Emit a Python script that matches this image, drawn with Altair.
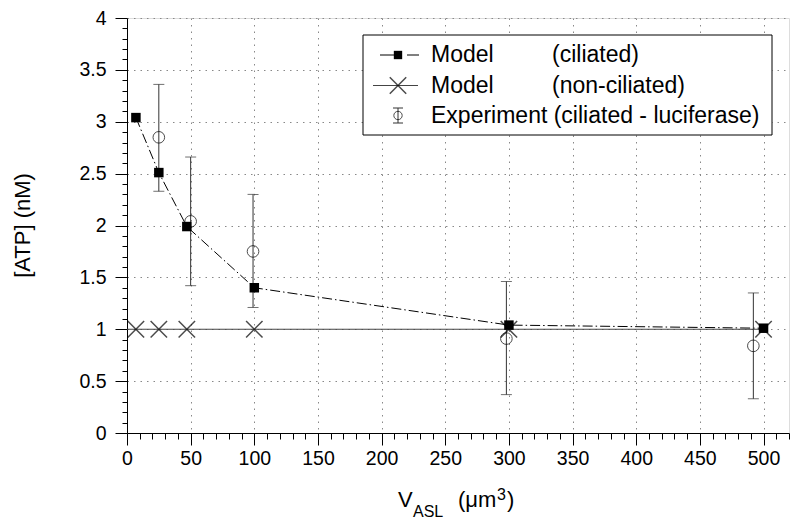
import altair as alt
import pandas as pd

# ---------------- data ----------------
vasl_model = [7, 25, 47, 100, 300, 500]
atp_model_ciliated = [3.04, 2.51, 1.99, 1.40, 1.04, 1.01]
atp_model_nonciliated = [1.00, 1.00, 1.00, 1.00, 1.00, 1.00]
nonciliated_line_x = [0, 7, 25, 47, 100, 300, 500]
nonciliated_line_y = [1.00, 1.00, 1.00, 1.00, 1.00, 1.00, 1.00]

exp_x = [25, 50, 99, 298, 492]
exp_y = [2.85, 2.04, 1.75, 0.91, 0.84]
exp_lo = [2.33, 1.42, 1.21, 0.37, 0.33]
exp_hi = [3.36, 2.66, 2.30, 1.46, 1.35]

x_ticks = list(range(0, 530, 10))
y_ticks = [round(i / 10, 1) for i in range(0, 41)]

legend_labels = ["Model", "Model", "Experiment (ciliated - luciferase)"]
legend_labels2 = ["(ciliated)", "(non-ciliated)", ""]

FONT = "Liberation Sans"

ciliated = pd.DataFrame({"v": vasl_model, "atp": atp_model_ciliated})
nonciliated = pd.DataFrame({"v": vasl_model, "atp": atp_model_nonciliated})
nonline = pd.DataFrame({"v": nonciliated_line_x, "atp": nonciliated_line_y})
exp = pd.DataFrame({"v": exp_x, "atp": exp_y, "lo": exp_lo, "hi": exp_hi})

xscale = alt.Scale(domain=[0, 520], nice=False, zero=False)
yscale = alt.Scale(domain=[0, 4], nice=False, zero=False)

xmajor = "datum.value % 50 === 0"
ymajor = "abs(datum.value * 2 - round(datum.value * 2)) < 0.001"

xaxis = alt.Axis(
    values=x_ticks,
    labelExpr=f"{xmajor} ? datum.value + '' : ''",
    tickSize={"condition": {"test": xmajor, "value": 12}, "value": 6},
    gridOpacity={"condition": {"test": xmajor, "value": 1}, "value": 0},
    grid=True, gridDash=[1.5, 5], gridColor="#888", gridWidth=1,
    domainColor="black", tickColor="black", tickWidth=1,
    labelFont=FONT, labelFontSize=19.5, labelColor="black", labelPadding=4,
    labelOverlap=False, labelFlush=False, title=None,
)
yaxis = alt.Axis(
    values=y_ticks,
    labelExpr=f"{ymajor} ? datum.value + '' : ''",
    tickSize={"condition": {"test": ymajor, "value": 12}, "value": 5},
    gridOpacity={"condition": {"test": ymajor, "value": 1}, "value": 0},
    grid=True, gridDash=[1.5, 5], gridColor="#888", gridWidth=1,
    domainColor="black", tickColor="black", tickWidth=1,
    labelFont=FONT, labelFontSize=19.5, labelColor="black", labelPadding=9,
    labelOverlap=False, labelFlush=False,
    title="[ATP] (nM)", titleFont=FONT, titleFontSize=22, titleFontWeight="normal",
    titleColor="black", titleX=-105, titleY=207, titleAngle=270,
    titleAlign="center", titleBaseline="middle",
)

X = alt.X("v:Q", scale=xscale, axis=xaxis, title=None)
Y = alt.Y("atp:Q", scale=yscale, axis=yaxis, title="[ATP] (nM)")
YLO = alt.Y("lo:Q", scale=yscale, axis=yaxis, title="[ATP] (nM)")
YHI = alt.Y("hi:Q", scale=yscale, axis=yaxis, title="[ATP] (nM)")

non_line = alt.Chart(nonline).mark_line(color="#444", strokeWidth=1.2).encode(x=X, y=Y)
cil_line = alt.Chart(ciliated).mark_line(
    color="black", strokeWidth=1, strokeDash=[10, 3, 1.5, 3]
).encode(x=X, y=Y)

err_rule = alt.Chart(exp).mark_rule(color="#333", strokeWidth=1).encode(
    x=X, y=YLO, y2="hi:Q"
)
cap_lo = alt.Chart(exp).mark_tick(orient="horizontal", size=11, thickness=1, color="#333").encode(
    x=X, y=YLO
)
cap_hi = alt.Chart(exp).mark_tick(orient="horizontal", size=11, thickness=1, color="#333").encode(
    x=X, y=YHI
)
circles = alt.Chart(exp).mark_point(
    shape="circle", filled=False, size=135, color="black", strokeWidth=1
).encode(x=X, y=Y)

XSHAPE = "M-1,-1L1,1M-1,1L1,-1"
crosses = alt.Chart(nonciliated).mark_point(
    shape=XSHAPE, filled=False, size=270, color="black", strokeWidth=1.5
).encode(x=X, y=Y)
squares = alt.Chart(ciliated).mark_point(
    shape="square", filled=True, size=90, color="black", opacity=1
).encode(x=X, y=Y)

# ---------------- legend (drawn manually, pixel positions) ----------------
one = pd.DataFrame({"k": [0]})
leg_box = alt.Chart(one).mark_rect(fill="white", stroke="black", strokeWidth=1).encode(
    x=alt.value(236), x2=alt.value(645), y=alt.value(17), y2=alt.value(117)
)
row_y = [37, 67.5, 97.5]
leg_l1a = alt.Chart(one).mark_rule(color="black", strokeWidth=1).encode(
    x=alt.value(253), x2=alt.value(268), y=alt.value(row_y[0])
)
leg_l1b = alt.Chart(one).mark_rule(color="black", strokeWidth=1).encode(
    x=alt.value(280), x2=alt.value(292), y=alt.value(row_y[0])
)
leg_sq = alt.Chart(one).mark_point(shape="square", filled=True, size=70, color="black", opacity=1).encode(
    x=alt.value(271), y=alt.value(row_y[0])
)
leg_l2 = alt.Chart(one).mark_rule(color="#444", strokeWidth=1.2).encode(
    x=alt.value(246), x2=alt.value(291), y=alt.value(row_y[1])
)
leg_x = alt.Chart(one).mark_point(shape=XSHAPE, filled=False, size=270, color="black", strokeWidth=1.5).encode(
    x=alt.value(271), y=alt.value(row_y[1])
)
leg_eb = alt.Chart(one).mark_rule(color="#333", strokeWidth=1).encode(
    x=alt.value(271), y=alt.value(row_y[2] - 7.5), y2=alt.value(row_y[2] + 7.5)
)
leg_c1 = alt.Chart(one).mark_rule(color="#333", strokeWidth=1).encode(
    x=alt.value(266), x2=alt.value(276), y=alt.value(row_y[2] - 7.5)
)
leg_c2 = alt.Chart(one).mark_rule(color="#333", strokeWidth=1).encode(
    x=alt.value(266), x2=alt.value(276), y=alt.value(row_y[2] + 7.5)
)
leg_circ = alt.Chart(one).mark_point(shape="circle", filled=False, size=70, color="black", strokeWidth=1).encode(
    x=alt.value(271), y=alt.value(row_y[2])
)
leg_df = pd.DataFrame({"t1": legend_labels, "t2": legend_labels2, "y": row_y})
leg_t1 = alt.Chart(leg_df).mark_text(
    align="left", baseline="middle", font=FONT, fontSize=23, color="black"
).encode(x=alt.value(304), y=alt.Y("y:Q", scale=None, axis=None), text="t1:N")
leg_t2 = alt.Chart(leg_df).mark_text(
    align="left", baseline="middle", font=FONT, fontSize=23, color="black"
).encode(x=alt.value(425), y=alt.Y("y:Q", scale=None, axis=None), text="t2:N")

# ---------------- x-axis title with sub/superscript ----------------
def txt(s, x, y, size):
    return alt.Chart(one).mark_text(
        text=s, align="left", baseline="alphabetic", font=FONT, fontSize=size, color="black"
    ).encode(x=alt.value(x), y=alt.value(y))

xtitle = [
    txt("V", 271, 489, 22),
    txt("ASL", 286, 499, 16),
    txt("(μm", 331, 489, 22),
    txt("3", 370, 482, 16),
    txt(")", 380, 489, 22),
]

chart = alt.layer(
    non_line, cil_line, err_rule, cap_lo, cap_hi, circles, crosses, squares,
    leg_box, leg_l1a, leg_l1b, leg_sq, leg_l2, leg_x, leg_eb, leg_c1, leg_c2, leg_circ, leg_t1, leg_t2,
    *xtitle,
).properties(
    width=662, height=415,
    autosize=alt.AutoSizeParams(type="none"),
    padding={"left": 119, "top": 10, "right": 3, "bottom": 88},
).configure_view(stroke="black", strokeWidth=1).configure(background="white")

chart.save("out.html", embed_options={"renderer": "svg", "actions": False})
